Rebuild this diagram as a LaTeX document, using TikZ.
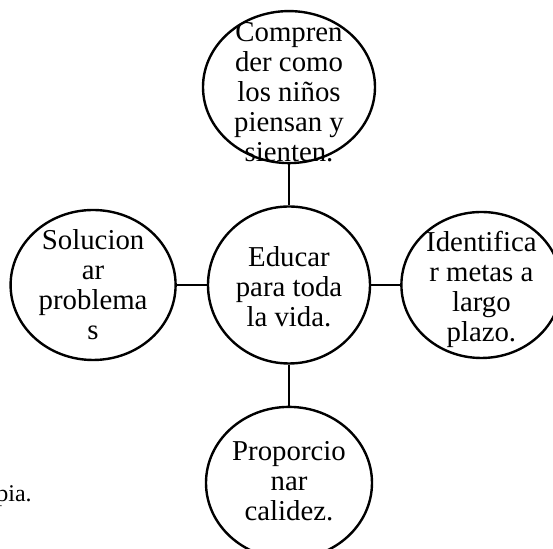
\documentclass[tikz,border=0pt]{standalone}
\usepackage{fontspec}
\setmainfont{Liberation Serif}
\usepackage{tikz}
\usetikzlibrary{shapes.geometric, positioning}

\begin{document}
\begin{tikzpicture}[
    node distance=20.5pt and 15pt,
    bubble/.style={ellipse, draw, line width=1.2pt, inner sep=0pt},
    btext/.style={align=center, font=\fontsize{14.4}{15}\selectfont},
    link/.style={line width=1.2pt}
]
\useasboundingbox (0,0) rectangle (276.5pt,-274.5pt);

% Circles
\node[bubble, minimum width=81pt, minimum height=78.5pt,
      label={[btext, name=center-t, yshift=-1pt]center:Educar\\para toda\\la vida.}]
      (center) at (144.5pt,-142.5pt) {};
\node[bubble, minimum width=86pt, minimum height=76pt, above=of center,
      label={[btext, name=top-t, yshift=-2.5pt]center:Compren\\der como\\los niños\\piensan y\\sienten.}]
      (top) {};
\node[bubble, minimum width=82.5pt, minimum height=75pt, left=of center,
      label={[btext, name=left-t]center:Solucion\\ar\\problema\\s}]
      (left) {};
\node[bubble, minimum width=80pt, minimum height=73pt, right=14.5pt of center,
      label={[btext, name=right-t, yshift=-2pt]center:Identifica\\r metas a\\largo\\plazo.}]
      (right) {};
\node[bubble, minimum width=83pt, minimum height=76pt, below=of center,
      label={[btext, name=bottom-t, yshift=1pt]center:Proporcio\\nar\\calidez.}]
      (bottom) {};

% Stray text
\node[anchor=base west, inner sep=0pt, font=\fontsize{12}{14}\selectfont]
      (note) at (-2pt,-251pt) {pia.};

% Lines
\draw[link] (top) -- (center);
\draw[link] (bottom) -- (center);
\draw[link] (left) -- (center);
\draw[link] (right) -- (center);

\end{tikzpicture}
\end{document}
